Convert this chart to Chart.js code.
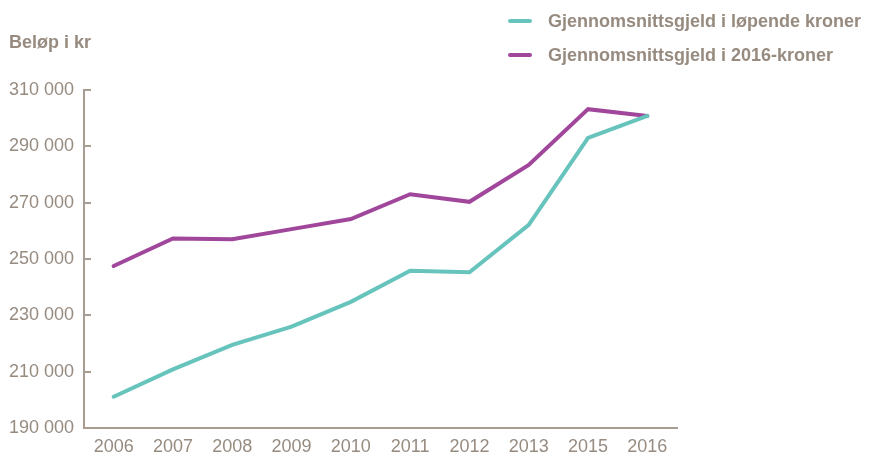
<!DOCTYPE html>
<html>
<head>
<meta charset="utf-8">
<script src="https://cdn.jsdelivr.net/npm/chart.js@4/dist/chart.umd.min.js"></script>
<style>
  html, body { margin: 0; padding: 0; background: #fff; }
  #wrap { position: relative; width: 871px; height: 454px; }
</style>
</head>
<body>
<div id="wrap"><canvas id="chart" width="871" height="454"></canvas></div>
<script>
// år og verdier lest av figuren
var years = ["2006", "2007", "2008", "2009", "2010", "2011", "2012", "2013", "2015", "2016"];
var lopendeKroner = [201100, 210800, 219500, 226000, 234800, 245800, 245300, 262100, 293000, 300800];
var kroner2016 = [247500, 257300, 257000, 260600, 264200, 273000, 270300, 283400, 303200, 300800];
var seriesNames = ["Gjennomsnittsgjeld i løpende kroner", "Gjennomsnittsgjeld i 2016-kroner"];
var yTitle = "Beløp i kr";

var textColor = "#978b80";
var axisColor = "#a69c92";
var fontFamily = "'Liberation Sans', Arial, Helvetica, sans-serif";

// tegner y-tittel, legend og tick-streker innenfor aksen
var extras = {
  id: "extras",
  afterDraw: function (chart) {
    var ctx = chart.ctx;
    var y = chart.scales.y;
    ctx.save();
    ctx.strokeStyle = axisColor;
    ctx.lineWidth = 2;
    y.ticks.forEach(function (t) {
      var py = Math.round(y.getPixelForValue(t.value));
      ctx.beginPath();
      ctx.moveTo(y.right, py);
      ctx.lineTo(y.right + 7, py);
      ctx.stroke();
    });

    ctx.fillStyle = textColor;
    ctx.textBaseline = "middle";
    ctx.font = "bold 18px " + fontFamily;
    ctx.fillText(yTitle, 9, 43);

    chart.data.datasets.forEach(function (ds, i) {
      var ly = 21 + i * 34;
      ctx.strokeStyle = ds.borderColor;
      ctx.lineWidth = 4;
      ctx.lineCap = "round";
      ctx.beginPath();
      ctx.moveTo(510, ly);
      ctx.lineTo(530, ly);
      ctx.stroke();
      ctx.fillStyle = textColor;
      ctx.fillText(ds.label, 548, ly + 1);
    });
    ctx.restore();
  }
};

new Chart(document.getElementById("chart"), {
  type: "line",
  data: {
    labels: years,
    datasets: [
      {
        label: seriesNames[0],
        data: lopendeKroner,
        borderColor: "#67c4bd",
        borderWidth: 4,
        pointRadius: 0,
        tension: 0,
        borderCapStyle: "round",
        borderJoinStyle: "miter"
      },
      {
        label: seriesNames[1],
        data: kroner2016,
        borderColor: "#a0479c",
        borderWidth: 4,
        pointRadius: 0,
        tension: 0,
        borderCapStyle: "round",
        borderJoinStyle: "miter"
      }
    ]
  },
  options: {
    responsive: false,
    animation: false,
    layout: { padding: { left: 0, right: 194, top: 90, bottom: 0 } },
    plugins: {
      legend: { display: false },
      tooltip: { enabled: false }
    },
    scales: {
      x: {
        offset: true,
        grid: { display: false, drawTicks: false },
        border: { color: axisColor, width: 2 },
        ticks: {
          color: textColor,
          font: { family: fontFamily, size: 18 },
          padding: 8,
          maxRotation: 0
        },
        afterFit: function (s) { s.height = 26; }
      },
      y: {
        min: 190000,
        max: 310000,
        grid: { display: false, drawTicks: false },
        border: { color: axisColor, width: 2 },
        ticks: {
          stepSize: 20000,
          color: textColor,
          font: { family: fontFamily, size: 18 },
          padding: 10,
          callback: function (v) { return String(v).replace(/\B(?=(\d{3})+(?!\d))/g, " "); }
        },
        afterFit: function (s) { s.width = 84; }
      }
    }
  },
  plugins: [extras]
});
</script>
</body>
</html>
